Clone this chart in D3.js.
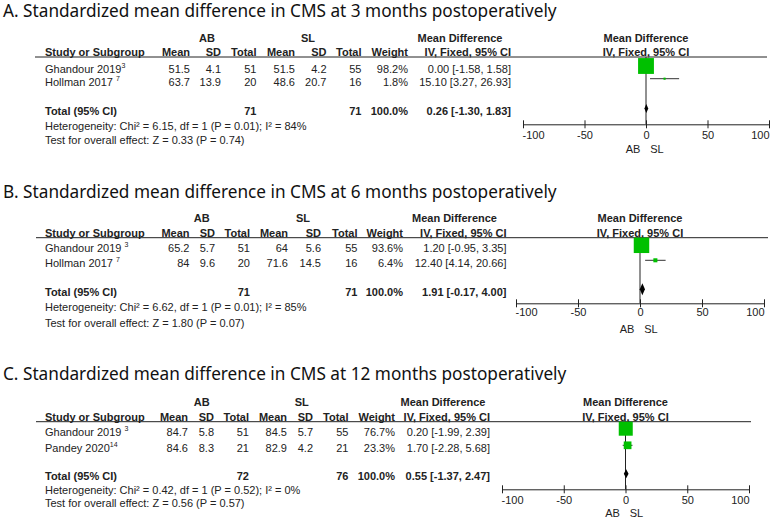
<!DOCTYPE html>
<html>
<head>
<meta charset="utf-8">
<script src="https://cdn.jsdelivr.net/npm/d3@7"></script>
<style>
    body { margin: 0; background: #fff; }
    svg { display: block; }
    .tbl text { font-family: 'Liberation Sans', Arial, sans-serif; font-size: 11px; fill: #222; }
    .tbl text.bold { font-weight: bold; }
    .title { font-family: 'Noto Sans', sans-serif; font-size: 18.5px; fill: #111; }
    .axis text { font-family: 'Liberation Sans', Arial, sans-serif; font-size: 11px; fill: #222; }
    .axis line, .axis path { stroke: #222; }
</style>
</head>
<body>
<svg id="chart" width="774" height="526"></svg>
<script>
/**
 * Data, one entry per panel (A, B, C).
 */
const titles = [
    'A. Standardized mean difference in CMS at 3 months postoperatively',
    'B. Standardized mean difference in CMS at 6 months postoperatively',
    'C. Standardized mean difference in CMS at 12 months postoperatively'
];
const studyNames = [['Ghandour 2019', 'Hollman 2017'], ['Ghandour 2019', 'Hollman 2017'], ['Ghandour 2019', 'Pandey 2020']];
const studyRefs = [['3', '7'], ['3', '7'], ['3', '14']];
const abMean = [[51.5, 63.7], [65.2, 84], [84.7, 84.6]];
const abSd = [[4.1, 13.9], [5.7, 9.6], [5.8, 8.3]];
const abTotal = [[51, 20], [51, 20], [51, 21]];
const slMean = [[51.5, 48.6], [64, 71.6], [84.5, 82.9]];
const slSd = [[4.2, 20.7], [5.6, 14.5], [5.7, 4.2]];
const slTotal = [[55, 16], [55, 16], [55, 21]];
const weights = [[98.2, 1.8], [93.6, 6.4], [76.7, 23.3]];
const meanDiff = [[0.00, 15.10], [1.20, 12.40], [0.20, 1.70]];
const ciLow = [[-1.58, 3.27], [-0.95, 4.14], [-1.99, -2.28]];
const ciHigh = [[1.58, 26.93], [3.35, 20.66], [2.39, 5.68]];
const totalDiff = [0.26, 1.91, 0.55];
const totalLow = [-1.30, -0.17, -1.37];
const totalHigh = [1.83, 4.00, 2.47];
const hetChi2 = [6.15, 6.62, 0.42];
const hetDf = [1, 1, 1];
const hetP = ['0.01', '0.01', '0.52'];
const hetI2 = [84, 85, 0];
const effectZ = [0.33, 1.80, 0.56];
const effectP = ['0.74', '0.07', '0.57'];
const axisTicks = [-100, -50, 0, 50, 100];

/**
 * Layout of each panel (the three source images were scaled a bit differently).
 * All y values are text centres.
 */
const layouts = [
    { titleY: 17, groupY: 38, headerY: 52, lineY: 57, rowY: [69, 81.7], totalY: 111, hetY: 125.5, testY: 139.5,
      axisY: 124.3, tickY: 135, sideY: 149, cols: [190, 221, 256.5, 295, 326.5, 361.5, 408, 511],
      abX: 207, slX: 308, mdX: 460, refDx: [0, 3], axisX: [523, 769], lineX: [35, 767], diamondH: 4.5 },
    { titleY: 197.5, groupY: 218.3, headerY: 233.3, lineY: 237.7, rowY: [248.3, 263.3], totalY: 291.7, hetY: 306.7, testY: 323,
      axisY: 303.3, tickY: 312.5, sideY: 329, cols: [189.5, 215, 250, 288, 321, 357.5, 403, 506.5],
      abX: 201.7, slX: 303, mdX: 454.5, refDx: [3, 3], axisX: [516, 764], lineX: [36, 768], diamondH: 6 },
    { titleY: 380, groupY: 401.7, headerY: 417, lineY: 421.7, rowY: [431.7, 448.3], totalY: 476.3, hetY: 490, testY: 503.3,
      axisY: 489.3, tickY: 500, sideY: 512.5, cols: [188, 214, 249, 287, 313, 348.5, 395, 490],
      abX: 201.7, slX: 301.7, mdX: 443, refDx: [3, 0], axisX: [502, 749], lineX: [36, 751], diamondH: 4.5 }
];

const headerNames = ['Mean', 'SD', 'Total', 'Mean', 'SD', 'Total', 'Weight', 'IV, Fixed, 95% CI'],
    textX = 45,
    baseline = c => c + 4, // text centre -> baseline for 11px text
    green = '#00c000',
    boxSize = d3.scaleSqrt().domain([0, 100]).range([0, 16]);

const svg = d3.select('#chart');

function fmtCi(m, lo, hi) {
    return m.toFixed(2) + ' [' + lo.toFixed(2) + ', ' + hi.toFixed(2) + ']';
}

function drawPanel(i) {
    const L = layouts[i];

    // Title
    svg.append('text').attr('class', 'title')
        .attr('x', 3).attr('y', L.titleY)
        .text(titles[i]);

    const g = svg.append('g').attr('class', 'tbl');

    // Group labels
    g.append('text').attr('class', 'bold').attr('x', L.abX).attr('y', baseline(L.groupY))
        .attr('text-anchor', 'middle').text('AB');
    g.append('text').attr('class', 'bold').attr('x', L.slX).attr('y', baseline(L.groupY))
        .attr('text-anchor', 'middle').text('SL');
    g.append('text').attr('class', 'bold').attr('x', L.mdX).attr('y', baseline(L.groupY))
        .attr('text-anchor', 'middle').text('Mean Difference');

    // Header row
    g.append('text').attr('class', 'bold').attr('x', textX).attr('y', baseline(L.headerY))
        .text('Study or Subgroup');
    g.selectAll('.hdr').data(headerNames).enter().append('text')
        .attr('class', 'hdr bold')
        .attr('x', (d, k) => L.cols[k])
        .attr('y', baseline(L.headerY))
        .attr('text-anchor', 'end')
        .text(d => d);

    g.append('line')
        .attr('x1', L.lineX[0]).attr('x2', L.lineX[1])
        .attr('y1', L.lineY).attr('y2', L.lineY)
        .attr('stroke', '#222');

    // Study rows
    studyNames[i].forEach((name, j) => {
        const y = baseline(L.rowY[j]);
        const t = g.append('text').attr('x', textX).attr('y', y);
        t.append('tspan').text(name);
        t.append('tspan').attr('dx', L.refDx[j]).attr('dy', -5).style('font-size', '7px').text(studyRefs[i][j]);

        const cells = [abMean[i][j], abSd[i][j], abTotal[i][j], slMean[i][j], slSd[i][j], slTotal[i][j],
            weights[i][j].toFixed(1) + '%', fmtCi(meanDiff[i][j], ciLow[i][j], ciHigh[i][j])];
        cells.forEach((c, k) => {
            g.append('text').attr('x', L.cols[k]).attr('y', y)
                .attr('text-anchor', 'end').text(String(c));
        });
    });

    // Total row
    const ty = baseline(L.totalY);
    g.append('text').attr('class', 'bold').attr('x', textX).attr('y', ty).text('Total (95% CI)');
    [[2, d3.sum(abTotal[i])], [5, d3.sum(slTotal[i])], [6, '100.0%'],
        [7, fmtCi(totalDiff[i], totalLow[i], totalHigh[i])]].forEach(([k, v]) => {
        g.append('text').attr('class', 'bold').attr('x', L.cols[k]).attr('y', ty)
            .attr('text-anchor', 'end').text(String(v));
    });

    g.append('text').attr('x', textX).attr('y', baseline(L.hetY))
        .text('Heterogeneity: Chi² = ' + hetChi2[i].toFixed(2) + ', df = ' + hetDf[i] +
            ' (P = ' + hetP[i] + '); I² = ' + hetI2[i] + '%');
    g.append('text').attr('x', textX).attr('y', baseline(L.testY))
        .text('Test for overall effect: Z = ' + effectZ[i].toFixed(2) + ' (P = ' + effectP[i] + ')');

    /**
     * Forest plot.
     */
    const x = d3.scaleLinear().domain([-100, 100]).range(L.axisX);
    const plot = svg.append('g');

    plot.append('text').attr('x', x(0)).attr('y', baseline(L.groupY))
        .attr('text-anchor', 'middle').style('font', 'bold 11px "Liberation Sans", Arial, sans-serif')
        .attr('fill', '#222').text('Mean Difference');
    plot.append('text').attr('x', x(0)).attr('y', baseline(L.headerY))
        .attr('text-anchor', 'middle').style('font', 'bold 11px "Liberation Sans", Arial, sans-serif')
        .attr('fill', '#222').text('IV, Fixed, 95% CI');

    // Line of no effect
    plot.append('line')
        .attr('x1', x(0)).attr('x2', x(0))
        .attr('y1', L.lineY).attr('y2', L.axisY)
        .attr('stroke', '#222');

    const studies = studyNames[i].map((n, j) => ({
        y: L.rowY[j] - 3, md: meanDiff[i][j], lo: ciLow[i][j], hi: ciHigh[i][j], w: weights[i][j]
    }));

    plot.selectAll('.ci').data(studies).enter().append('line')
        .attr('class', 'ci')
        .attr('x1', d => x(d.lo)).attr('x2', d => x(d.hi))
        .attr('y1', d => d.y).attr('y2', d => d.y)
        .attr('stroke', '#333');

    plot.selectAll('.box').data(studies).enter().append('rect')
        .attr('class', 'box')
        .attr('x', d => x(d.md) - boxSize(d.w) / 2)
        .attr('y', d => d.y - boxSize(d.w) / 2)
        .attr('width', d => boxSize(d.w))
        .attr('height', d => boxSize(d.w))
        .attr('fill', green);

    // Pooled diamond
    const dy = L.totalY - 2.5, h = L.diamondH;
    plot.append('path')
        .attr('d', 'M' + x(totalLow[i]) + ',' + dy + 'L' + x(totalDiff[i]) + ',' + (dy - h) +
            'L' + x(totalHigh[i]) + ',' + dy + 'L' + x(totalDiff[i]) + ',' + (dy + h) + 'Z')
        .attr('fill', '#000');

    // Axis (end labels sit inside the axis, as in RevMan)
    const axis = plot.append('g').attr('class', 'axis')
        .attr('transform', 'translate(0,' + L.axisY + ')')
        .call(d3.axisBottom(x).tickValues(axisTicks).tickSizeOuter(0).tickSizeInner(4).tickFormat(d => String(d)));
    axis.selectAll('.tick line').attr('y1', -4).attr('y2', 4);
    axis.selectAll('.tick text')
        .attr('y', L.tickY - L.axisY + 4).attr('dy', null)
        .attr('text-anchor', (d, k) => k === 0 ? 'start' : k === axisTicks.length - 1 ? 'end' : 'middle')
        .attr('x', (d, k) => k === 0 ? -1 : 0);

    plot.append('text').attr('x', x(0) - 13).attr('y', baseline(L.sideY))
        .attr('text-anchor', 'middle').style('font', '11px "Liberation Sans", Arial, sans-serif')
        .attr('fill', '#222').text('AB');
    plot.append('text').attr('x', x(0) + 11).attr('y', baseline(L.sideY))
        .attr('text-anchor', 'middle').style('font', '11px "Liberation Sans", Arial, sans-serif')
        .attr('fill', '#222').text('SL');
}

layouts.forEach((L, i) => drawPanel(i));

// Fit title size to the source width
const firstTitle = svg.select('.title').node();
const fit = 18.5 * 554 / firstTitle.getComputedTextLength();
svg.selectAll('.title').style('font-size', fit + 'px');
</script>
</body>
</html>
